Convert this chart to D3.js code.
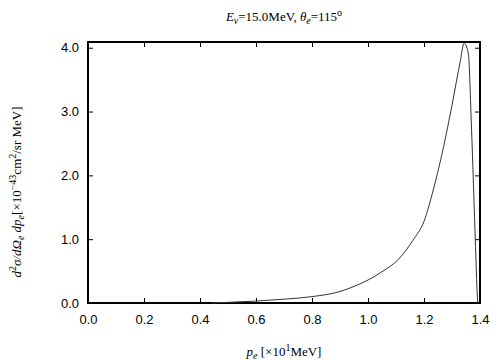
<!DOCTYPE html>
<html>
<head>
<meta charset="utf-8">
<script src="https://cdn.jsdelivr.net/npm/d3@7"></script>
<style>
  body { margin: 0; background: #fff; }
  .tick text { font-family: "Liberation Sans", Arial, sans-serif; font-size: 13px; fill: #000; }
  .lbl { font-family: "Liberation Serif", "Times New Roman", serif; font-size: 13px; fill: #000; }
</style>
</head>
<body>
<svg id="chart" width="504" height="360"></svg>
<script>
// electron momentum p_e [x10 MeV]
var momentum = [0.44, 0.5, 0.6, 0.7, 0.8, 0.9, 0.95, 1.0, 1.05, 1.11, 1.16, 1.2, 1.233, 1.27, 1.3, 1.33, 1.343, 1.358, 1.37, 1.382, 1.39, 1.392];
// d2sigma / dOmega dp  [x10^-43 cm^2/sr MeV]
var crossSection = [0.0, 0.01, 0.03, 0.06, 0.1, 0.18, 0.26, 0.36, 0.49, 0.69, 0.98, 1.28, 1.77, 2.45, 3.1, 3.8, 4.07, 3.92, 2.7, 1.15, 0.16, 0.0];
var xTicks = [0.0, 0.2, 0.4, 0.6, 0.8, 1.0, 1.2, 1.4];
var yTicks = [0.0, 1.0, 2.0, 3.0, 4.0];

var svg = d3.select("#chart"),
    margin = {top: 42, right: 24, bottom: 57, left: 88},
    width = +svg.attr("width") - margin.left - margin.right,
    height = +svg.attr("height") - margin.top - margin.bottom;

var x = d3.scaleLinear().domain([0, 1.4]).range([0, width]),
    y = d3.scaleLinear().domain([0, 4.09]).range([height, 0]);

var g = svg.append("g")
    .attr("transform", "translate(" + margin.left + "," + margin.top + ")");

var fmt = d3.format(".1f");

// bottom / left axes with labels, ticks pointing inward
g.append("g")
    .attr("transform", "translate(0," + height + ")")
    .call(d3.axisBottom(x).tickValues(xTicks).tickFormat(fmt).tickSizeInner(-5).tickSizeOuter(0).tickPadding(12))
    .call(function (s) { s.select(".domain").remove(); });

g.append("g")
    .call(d3.axisLeft(y).tickValues(yTicks).tickFormat(fmt).tickSizeInner(-5).tickSizeOuter(0).tickPadding(9))
    .call(function (s) { s.select(".domain").remove(); });

// mirrored ticks on top / right
g.append("g")
    .call(d3.axisTop(x).tickValues(xTicks).tickFormat("").tickSizeInner(-5).tickSizeOuter(0))
    .call(function (s) { s.select(".domain").remove(); });

g.append("g")
    .attr("transform", "translate(" + width + ",0)")
    .call(d3.axisRight(y).tickValues(yTicks).tickFormat("").tickSizeInner(-5).tickSizeOuter(0))
    .call(function (s) { s.select(".domain").remove(); });

g.selectAll(".tick line").attr("stroke", "#000").attr("stroke-width", 1);

// frame
g.append("rect")
    .attr("x", 0).attr("y", 0)
    .attr("width", width).attr("height", height)
    .attr("fill", "none")
    .attr("stroke", "#000")
    .attr("stroke-width", 2);

// curve
var pts = momentum.map(function (p, i) { return [p, crossSection[i]]; });
var line = d3.line()
    .x(function (d) { return x(d[0]); })
    .y(function (d) { return y(d[1]); })
    .curve(d3.curveMonotoneX);

g.append("path")
    .datum(pts)
    .attr("fill", "none")
    .attr("stroke", "#333")
    .attr("stroke-width", 1)
    .attr("d", line);

// title
var title = svg.append("text")
    .attr("class", "lbl")
    .attr("x", margin.left + width / 2)
    .attr("y", 21)
    .attr("text-anchor", "middle");
title.append("tspan").attr("font-style", "italic").text("E");
title.append("tspan").attr("font-style", "italic").attr("font-size", "10px").attr("dy", 3).text("ν");
title.append("tspan").attr("dy", -3).text("=15.0MeV,  ");
title.append("tspan").attr("font-style", "italic").text("θ");
title.append("tspan").attr("font-style", "italic").attr("font-size", "10px").attr("dy", 3).text("e");
title.append("tspan").attr("dy", -3).text("=115");
title.append("tspan").attr("font-size", "10px").attr("dy", -5).text("o");

// x label
var xl = svg.append("text")
    .attr("class", "lbl")
    .attr("x", margin.left + width / 2)
    .attr("y", 356)
    .attr("text-anchor", "middle");
xl.append("tspan").attr("font-style", "italic").text("p");
xl.append("tspan").attr("font-style", "italic").attr("font-size", "10px").attr("dy", 3).text("e");
xl.append("tspan").attr("dy", -3).text(" [×10");
xl.append("tspan").attr("font-size", "10px").attr("dy", -5).text("1");
xl.append("tspan").attr("dy", 5).text("MeV]");

// y label
var yl = svg.append("text")
    .attr("class", "lbl")
    .attr("transform", "translate(21,192) rotate(-90)")
    .attr("text-anchor", "middle");
yl.append("tspan").attr("font-style", "italic").text("d");
yl.append("tspan").attr("font-size", "10px").attr("dy", -5).text("2");
yl.append("tspan").attr("font-style", "italic").attr("dy", 5).text("σ/dΩ");
yl.append("tspan").attr("font-style", "italic").attr("font-size", "10px").attr("dy", 3).text("e");
yl.append("tspan").attr("font-style", "italic").attr("dy", -3).text(" dp");
yl.append("tspan").attr("font-style", "italic").attr("font-size", "10px").attr("dy", 3).text("e");
yl.append("tspan").attr("dy", -3).text("[×10");
yl.append("tspan").attr("font-size", "10px").attr("dy", -5).text("−43");
yl.append("tspan").attr("dy", 5).text("cm");
yl.append("tspan").attr("font-size", "10px").attr("dy", -5).text("2");
yl.append("tspan").attr("dy", 5).text("/sr MeV]");
</script>
</body>
</html>
